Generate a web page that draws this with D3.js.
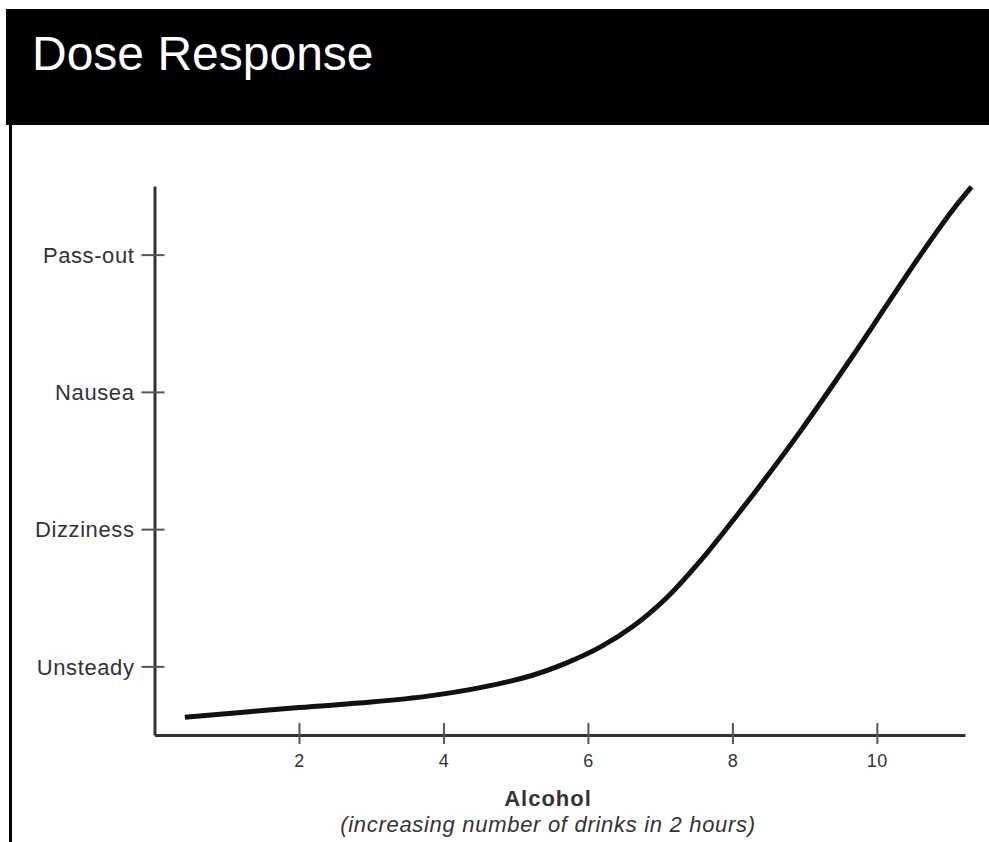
<!DOCTYPE html>
<html>
<head>
<meta charset="utf-8">
<script src="https://cdn.jsdelivr.net/npm/d3@7"></script>
<style>
  body { margin: 0; background: #fff; }
  svg { display: block; font-family: "Liberation Sans", Arial, sans-serif; }
</style>
</head>
<body>
<div id="chart"></div>
<script>
// data
const drinks = [0.42, 2, 3, 3.81, 4.51, 5.2, 5.68, 6.17, 6.62, 7.09, 7.55, 8.01, 8.48, 8.93, 9.67, 10.14, 10.6, 11.05, 11.31]
const response = [0.63, 0.70, 0.74, 0.785, 0.845, 0.93, 1.02, 1.14, 1.29, 1.5, 1.765, 2.065, 2.385, 2.705, 3.265, 3.635, 3.995, 4.325, 4.493]
const levels = ["Unsteady", "Dizziness", "Nausea", "Pass-out"]
const xTicks = [2, 4, 6, 8, 10]

const W = 989, H = 842

const svg = d3.select("#chart").append("svg")
  .attr("width", W)
  .attr("height", H)

// header bar
svg.append("rect")
  .attr("x", 6).attr("y", 9)
  .attr("width", W - 6).attr("height", 116)
  .attr("fill", "#000")
svg.append("text")
  .attr("x", 32).attr("y", 70)
  .attr("fill", "#fff")
  .attr("font-size", 48)
  .text("Dose Response")

// left frame line
svg.append("line")
  .attr("x1", 10.5).attr("x2", 10.5)
  .attr("y1", 123).attr("y2", H)
  .attr("stroke", "#000")
  .attr("stroke-width", 3)

const x = d3.scaleLinear()
  .domain([0, 11.22])
  .range([154.5, 965])

const y = d3.scaleLinear()
  .domain([0.5, 4.5])
  .range([735, 186])

// x axis
const gx = svg.append("g")
  .attr("transform", `translate(0,${y(0.5)})`)
  .call(d3.axisBottom(x).tickValues(xTicks).tickSize(9).tickSizeOuter(0))
gx.select(".domain").attr("stroke", "#333").attr("stroke-width", 3)
gx.selectAll(".tick line").attr("y1", -12).attr("stroke", "#555").attr("stroke-width", 2)
gx.selectAll(".tick text")
  .attr("y", 32).attr("dy", 0)
  .attr("fill", "#333")
  .attr("font-size", 18)
  .attr("letter-spacing", 0.5)
  .attr("font-family", "Liberation Sans, Arial, sans-serif")

// y axis, ticks cross the line
const gy = svg.append("g")
  .attr("transform", `translate(${x(0)},0)`)
  .call(d3.axisLeft(y).tickValues([1, 2, 3, 4]).tickFormat(d => levels[d - 1]).tickSize(13).tickSizeOuter(0))
gy.select(".domain").attr("stroke", "#333").attr("stroke-width", 3)
gy.selectAll(".tick line").attr("x1", -13).attr("x2", 10).attr("stroke", "#555").attr("stroke-width", 2)
gy.selectAll(".tick text")
  .attr("x", -20).attr("dy", "0.35em")
  .attr("fill", "#333")
  .attr("font-size", 22)
  .attr("letter-spacing", 0.6)
  .attr("font-family", "Liberation Sans, Arial, sans-serif")

// the dose response curve
const line = d3.line()
  .x((d, i) => x(drinks[i]))
  .y(d => y(d))
  .curve(d3.curveCatmullRom.alpha(0.5))

svg.append("path")
  .datum(response)
  .attr("d", line)
  .attr("fill", "none")
  .attr("stroke", "#111")
  .attr("stroke-width", 5)

// axis titles
svg.append("text")
  .attr("x", 548).attr("y", 806)
  .attr("text-anchor", "middle")
  .attr("font-size", 22)
  .attr("font-weight", "bold")
  .attr("letter-spacing", 1)
  .attr("fill", "#333")
  .text("Alcohol")
svg.append("text")
  .attr("x", 548).attr("y", 832)
  .attr("text-anchor", "middle")
  .attr("font-size", 22)
  .attr("font-style", "italic")
  .attr("letter-spacing", 0.7)
  .attr("fill", "#333")
  .text("(increasing number of drinks in 2 hours)")
</script>
</body>
</html>
